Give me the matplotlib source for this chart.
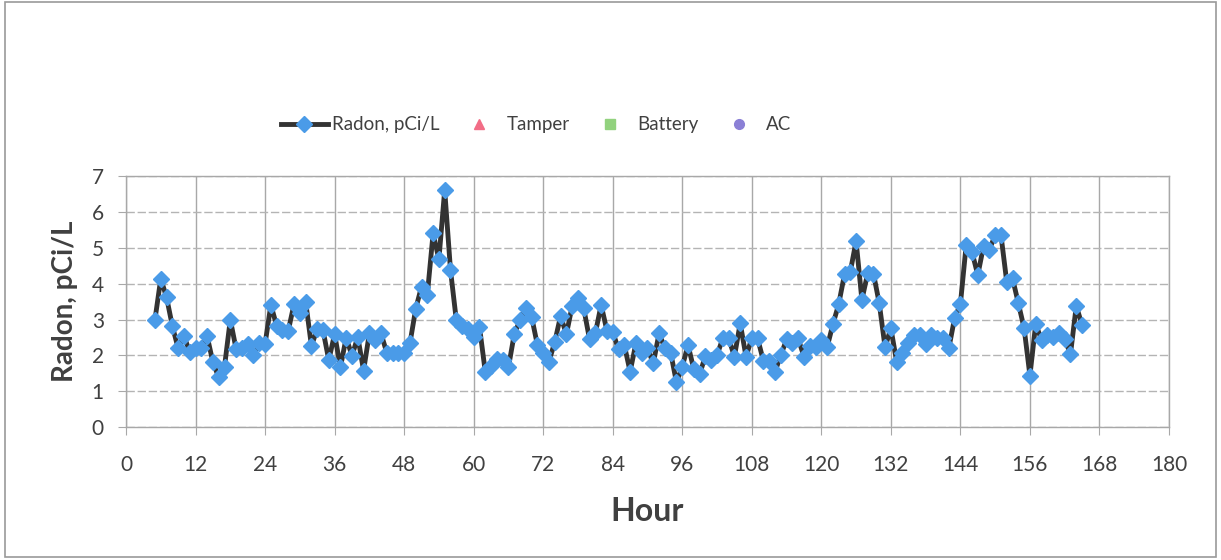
import matplotlib
matplotlib.use('Agg')
import matplotlib.pyplot as plt
import numpy as np
from matplotlib.patches import Rectangle

plt.rcParams['font.family'] = ['Lato', 'DejaVu Sans']

## hourly radon readings (hour 5 .. 165)
hours = list(range(5, 166))
radon = [3.0, 4.14, 3.62, 2.82, 2.2, 2.55, 2.09, 2.2, 2.2, 2.54,
         1.81, 1.39, 1.69, 3.0, 2.18, 2.2, 2.32, 2.0, 2.34, 2.32,
         3.41, 2.83, 2.71, 2.69, 3.43, 3.19, 3.5, 2.27, 2.73, 2.7,
         1.87, 2.6, 1.67, 2.5, 1.99, 2.52, 1.58, 2.62, 2.43, 2.62,
         2.08, 2.07, 2.07, 2.07, 2.34, 3.3, 3.92, 3.69, 5.4, 4.68,
         6.61, 4.38, 2.99, 2.82, 2.73, 2.52, 2.8, 1.55, 1.72, 1.89,
         1.87, 1.67, 2.59, 2.99, 3.31, 3.08, 2.29, 2.06, 1.83, 2.38,
         3.1, 2.59, 3.38, 3.61, 3.31, 2.45, 2.62, 3.41, 2.69, 2.66,
         2.17, 2.29, 1.55, 2.34, 2.08, 2.2, 1.78, 2.62, 2.2, 2.08,
         1.25, 1.69, 2.29, 1.61, 1.48, 1.99, 1.87, 2.01, 2.48, 2.48,
         1.97, 2.9, 1.97, 2.48, 2.48, 1.85, 1.85, 1.55, 2.0, 2.45,
         2.36, 2.48, 1.97, 2.26, 2.25, 2.43, 2.23, 2.87, 3.43, 4.26,
         4.33, 5.19, 3.55, 4.29, 4.28, 3.45, 2.23, 2.76, 1.83, 2.06,
         2.36, 2.57, 2.57, 2.32, 2.57, 2.48, 2.48, 2.2, 3.04, 3.43,
         5.08, 4.89, 4.24, 5.05, 4.94, 5.36, 5.36, 4.05, 4.15, 3.45,
         2.76, 1.44, 2.88, 2.43, 2.57, 2.52, 2.64, 2.45, 2.04, 3.38,
         2.85]
## no tamper / battery / AC events in this period
tamper = []
battery = []
ac = []

x_ticks = list(range(0, 181, 12))
y_ticks = list(range(0, 8))

fig = plt.figure(figsize=(12.21, 5.6), dpi=100)
ax = fig.add_axes([0.1032, 0.237, 0.8542, 0.4487])

ax.plot(hours, radon, color='#333333', lw=3.5, marker='D', markersize=8,
        markerfacecolor='#4a9be8', markeredgecolor='#4a9be8',
        label='Radon, pCi/L', zorder=3)
ax.plot([h for h, v in tamper], [v for h, v in tamper], ls='none', marker='^',
        markersize=7, color='#f26d86', label='Tamper')
ax.plot([h for h, v in battery], [v for h, v in battery], ls='none', marker='s',
        markersize=7, color='#92d27e', label='Battery')
ax.plot([h for h, v in ac], [v for h, v in ac], ls='none', marker='o',
        markersize=7, color='#8b80d6', label='AC')

ax.set_xlim(0, 180)
ax.set_ylim(0, 7)
ax.set_xticks(x_ticks)
ax.set_yticks(y_ticks)
ax.xaxis.grid(True, color='#a8a8a8', lw=1, ls='-')
ax.yaxis.grid(True, color='#b4b4b4', lw=1, ls=(0, (6, 2)))
ax.set_axisbelow(True)
for s in ax.spines.values():
    s.set_color('#a8a8a8')
    s.set_linewidth(1)
ax.tick_params(axis='both', direction='out', length=6, color='#a8a8a8',
               labelsize=15, labelcolor='#404040')
ax.tick_params(axis='x', pad=14)
ax.tick_params(axis='y', pad=10)

ax.set_xlabel('Hour', fontsize=23, fontweight='bold', color='#404040', labelpad=16)
ax.set_ylabel('Radon, pCi/L', fontsize=20, fontweight='bold', color='#404040', labelpad=10)

fig.legend(loc='center', bbox_to_anchor=(0.439, 0.777), ncol=4, frameon=False,
           fontsize=13.5, columnspacing=0.9, handlelength=2.5, handletextpad=0.2,
           labelcolor='#404040')

fig.patches.append(Rectangle((0.004, 0.006), 0.992, 0.99, transform=fig.transFigure,
                             fill=False, edgecolor='#9a9a9a', lw=1.2))

fig.savefig('out.png', dpi=100)
